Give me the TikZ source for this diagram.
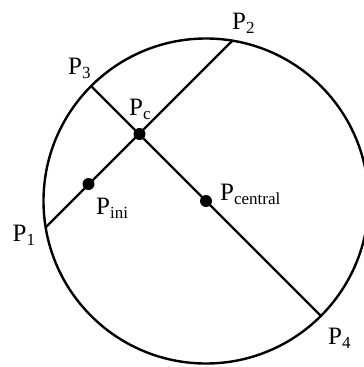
\documentclass[tikz,border=0pt]{standalone}
\usepackage{fontspec}
\setmainfont{Liberation Serif}
\newcommand{\lbl}[2]{\fontsize{25}{25}\selectfont P\raisebox{-4pt}{\fontsize{17}{17}\selectfont #2}}
\begin{document}
\begin{tikzpicture}[x=1pt,y=-1pt,
  ln/.style={line width=2.4pt},
  dot/.style={circle,fill=black,inner sep=0pt,minimum size=12pt},
  lab/.style={anchor=base west,inner sep=0pt}]
\clip (0,0) rectangle (364,367);
\coordinate (O) at (206,201);
\coordinate (P1) at (45.65,227.35);
\coordinate (P2) at (232.4,40.65);
\coordinate (P3) at (91.1,86.1);
\coordinate (P4) at (320.9,315.9);
\draw[ln] (O) circle[radius=162.5];
\draw[ln] (P1) -- (P2);
\draw[ln] (P3) -- (P4);
\node[dot] (Pc) at (139.5,134) {};
\node[dot] (Pini) at (88.5,184) {};
\node[dot] (Pcen) at (O) {};
\node[lab] (l3) at (68,74) {\lbl{}{3}};
\node[lab] (lc) at (129,115) {\lbl{}{c}};
\node[lab] (l2) at (232,29) {\lbl{}{2}};
\node[lab] (l1) at (12.5,241) {\lbl{}{1}};
\node[lab] (li) at (96,214.5) {\lbl{}{ini}};
\node[lab] (lcen) at (220,200.5) {\lbl{}{central}};
\node[lab] (l4) at (328,344) {\lbl{}{4}};
\end{tikzpicture}
\end{document}
